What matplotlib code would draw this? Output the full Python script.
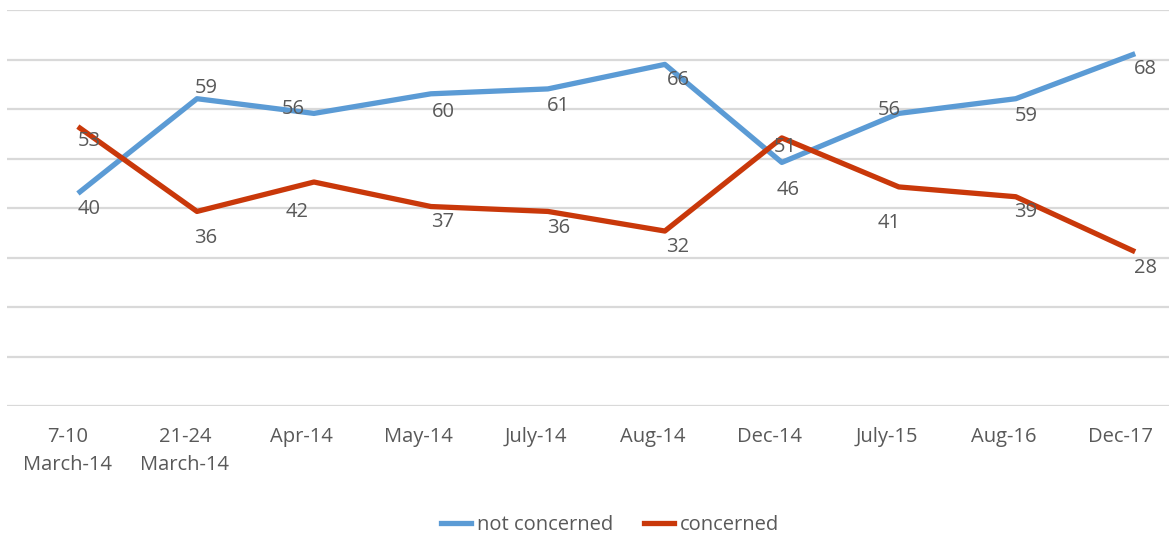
import numpy as np
import matplotlib.pyplot as plt
from matplotlib.transforms import ScaledTranslation

plt.rcParams['font.family'] = ['Open Sans', 'DejaVu Sans']

# dati
periodi = ["7-10\nMarch-14", "21-24\nMarch-14", "Apr-14", "May-14", "July-14",
           "Aug-14", "Dec-14", "July-15", "Aug-16", "Dec-17"]
not_concerned = [40, 59, 56, 60, 61, 66, 46, 56, 59, 68]
concerned = [53, 36, 42, 37, 36, 32, 51, 41, 39, 28]

# spostamento delle etichette (pixel) rispetto al punto
off_blu = [(9, -17), (9, 11), (-21, 4), (12, -18), (11, -17), (14, -16),
           (6, -28), (-10, 3), (10, -17), (13, -14)]
off_ros = [(9, -13), (9, -27), (-17, -30), (12, -15), (11, -17), (13, -16),
           (3, -9), (-10, -36), (10, -15), (13, -17)]

blu = "#5B9BD5"
rosso = "#C9380A"
grigio = "#595959"

fig = plt.figure(figsize=(11.69, 5.33), dpi=100)
ax = fig.add_axes([7/1169, 1-406/533, 1-7/1169, (406-10)/533])

x = np.arange(len(periodi))
ax.plot(x, not_concerned, color=blu, lw=3.8, label="not concerned", solid_joinstyle='round', zorder=3)
ax.plot(x, concerned, color=rosso, lw=3.8, label="concerned", solid_joinstyle='round', zorder=4)

for i in range(len(x)):
    ax.annotate(str(not_concerned[i]), (x[i], not_concerned[i]), xytext=off_blu[i],
                textcoords='offset pixels', ha='center', va='center', fontsize=14.5,
                color=grigio, zorder=5)
    ax.annotate(str(concerned[i]), (x[i], concerned[i]), xytext=off_ros[i],
                textcoords='offset pixels', ha='center', va='center', fontsize=14.5,
                color=grigio, zorder=5)

ax.set_xlim(-0.624, 9.31)
ax.set_ylim(-3.7, 77.1)
ax.set_yticks(np.linspace(-3.7, 77.1, 9))
ax.set_yticklabels([])
ax.grid(axis='y', color='#D9D9D9', lw=1.6)
ax.set_axisbelow(True)
ax.tick_params(axis='y', length=0)

ax.set_xticks(x)
ax.set_xticklabels(periodi, fontsize=14.5, color=grigio, linespacing=1.55)
ax.tick_params(axis='x', length=0, pad=15)
sposta = ScaledTranslation(-12/100, 0, fig.dpi_scale_trans)
for t in ax.get_xticklabels():
    t.set_transform(t.get_transform() + sposta)

for s in ax.spines.values():
    s.set_visible(False)

fig.legend(loc='lower center', bbox_to_anchor=(0.522, -0.037), ncol=2, frameon=False,
           fontsize=14.5, handlelength=1.5, columnspacing=1.5, handletextpad=0.3,
           labelcolor=grigio)

fig.savefig("out.png", dpi=100)
